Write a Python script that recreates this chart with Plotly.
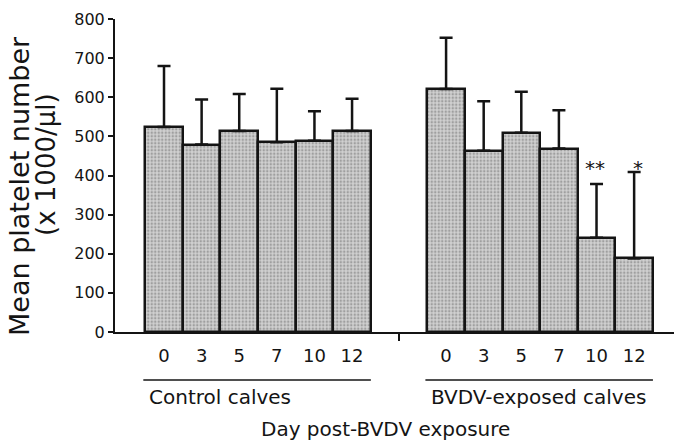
import plotly.graph_objects as go

# ---- data ----
days = ["0", "3", "5", "7", "10", "12"]
control_mean = [524, 479, 514, 485, 489, 514]
control_sd = [156, 115, 94, 137, 75, 82]
bvdv_mean = [621, 463, 509, 469, 241, 188]
bvdv_sd = [131, 127, 105, 98, 137, 221]
bvdv_sig = ["", "", "", "", "**", "*"]
group_names = ["Control calves", "BVDV-exposed calves"]
y_ticks = [0, 100, 200, 300, 400, 500, 600, 700, 800]

# ---- layout constants ----
W, H = 674, 441
L, R, T, B = 115, 0, 19, 109
PH = H - T - B
GAP = 2.5                      # gap between the two groups (in bar widths)
x_ctrl = [i for i in range(len(days))]
x_bvdv = [len(days) - 1 + GAP + i for i in range(len(days))]
sep = (x_ctrl[-1] + x_bvdv[0]) / 2
XR = [-1.303, 13.56]
FONT = "DejaVu Sans"
INK = "#141414"

def px_to_paper_y(dy):
    return -dy / PH

bar_style = dict(
    color="#c8c8c8",
    line=dict(color=INK, width=2.5),
    pattern=dict(shape=".", fgcolor="#6e6e6e", bgcolor="#d0d0d0", size=3.5, solidity=0.4),
)
err_style = dict(type="data", symmetric=False, color=INK, thickness=2.5, width=6.5)

fig = go.Figure()
fig.add_bar(x=x_ctrl, y=control_mean, width=1, marker=bar_style,
            error_y=dict(array=control_sd, arrayminus=[0] * len(days), **err_style),
            showlegend=False)
fig.add_bar(x=x_bvdv, y=bvdv_mean, width=1, marker=bar_style,
            error_y=dict(array=bvdv_sd, arrayminus=[0] * len(days), **err_style),
            showlegend=False)

annotations = []
# significance stars
for xv, s, dx in zip(x_bvdv, bvdv_sig, [0, 0, 0, 0, -2, 4]):
    if s:
        annotations.append(dict(x=xv, y=418, xref="x", yref="y", text=s, showarrow=False,
                                xshift=dx, font=dict(family=FONT, size=20, color=INK)))

# group labels + underlines
shapes = []
for xs, name in zip([x_ctrl, x_bvdv], group_names):
    x0 = xs[0] - 0.55
    x1 = xs[-1] + 0.5
    shapes.append(dict(type="line", xref="x", yref="paper", x0=x0, x1=x1,
                       y0=px_to_paper_y(48), y1=px_to_paper_y(48),
                       line=dict(color=INK, width=1.5)))
    annotations.append(dict(x=x0, y=0, xref="x", yref="paper", xanchor="left", yanchor="middle",
                            yshift=-65, xshift=4, text=name, showarrow=False,
                            font=dict(family=FONT, size=20, color=INK)))

# x title
annotations.append(dict(x=(385 - L) / (W - L - R), y=0, xref="paper", yref="paper",
                        xanchor="center", yanchor="middle", yshift=-97,
                        text="Day post-BVDV exposure", showarrow=False,
                        font=dict(family=FONT, size=20, color=INK)))
# y title (two lines)
annotations.append(dict(x=0, y=(PH - (186 - T)) / PH, xref="paper", yref="paper",
                        xanchor="center", yanchor="middle", xshift=-95, textangle=-90,
                        text="Mean platelet number", showarrow=False,
                        font=dict(family=FONT, size=27, color=INK)))
annotations.append(dict(x=0, y=(PH - (165 - T)) / PH, xref="paper", yref="paper",
                        xanchor="center", yanchor="middle", xshift=-69, textangle=-90,
                        text="(x 1000/µl)", showarrow=False,
                        font=dict(family=FONT, size=26, color=INK)))

fig.update_layout(
    width=W, height=H, margin=dict(l=L, r=R, t=T, b=B, pad=0),
    paper_bgcolor="white", plot_bgcolor="white",
    barmode="overlay", bargap=0,
    annotations=annotations, shapes=shapes,
    font=dict(family=FONT, color=INK),
)
fig.update_xaxes(
    range=XR, showgrid=False, zeroline=False, showline=True, linecolor=INK, linewidth=2,
    tickmode="array", tickvals=x_ctrl + x_bvdv, ticktext=days + days,
    ticks="", ticklabelstandoff=6, tickfont=dict(family=FONT, size=18, color=INK),
    minor=dict(tickmode="array", tickvals=[sep], ticks="outside", ticklen=7,
               tickwidth=2, tickcolor=INK, showgrid=False),
)
fig.update_yaxes(
    range=[0, 800], showgrid=False, zeroline=False, showline=True, linecolor=INK, linewidth=2,
    tickmode="array", tickvals=y_ticks, ticks="outside", ticklen=5, tickwidth=2, tickcolor=INK,
    tickfont=dict(family=FONT, size=16, color=INK),
)

fig.write_html("out.html")
